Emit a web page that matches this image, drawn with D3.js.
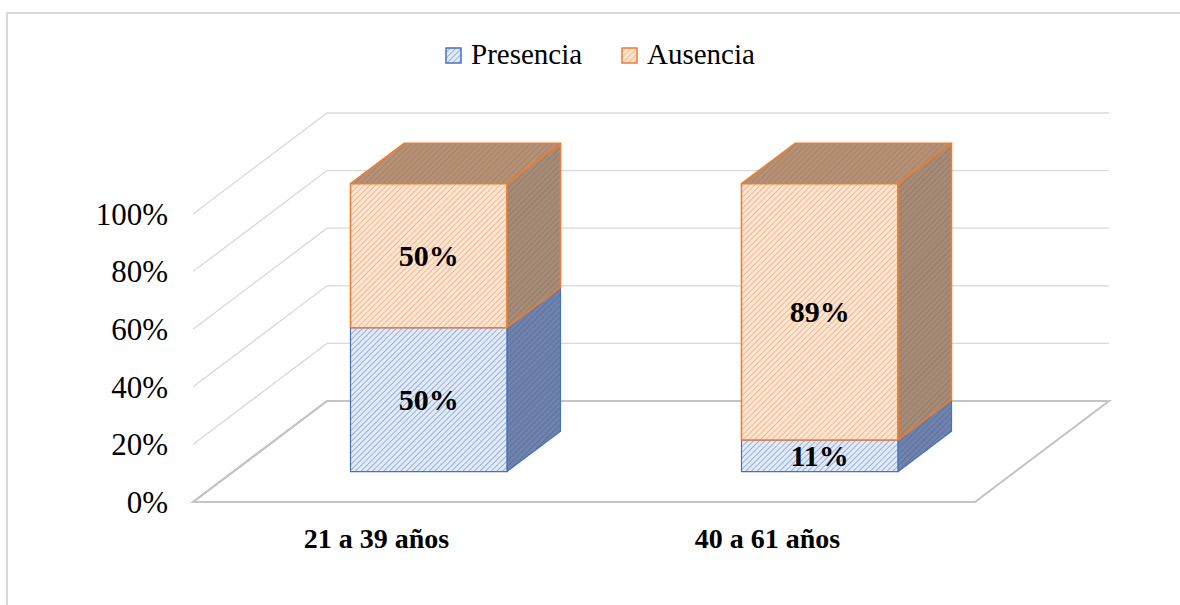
<!DOCTYPE html>
<html>
<head>
<meta charset="utf-8">
<script src="https://cdn.jsdelivr.net/npm/d3@7/dist/d3.min.js"></script>
<style>
  html, body { margin: 0; padding: 0; background: #ffffff; }
  svg { display: block; }
</style>
</head>
<body>
<svg id="chart" width="1180" height="605"></svg>
<script>
// Age groups and the share of each outcome within the group
const categories = ["21 a 39 años", "40 a 61 años"];
const presencia = [0.50, 0.11];
const ausencia = [0.50, 0.89];
const seriesNames = ["Presencia", "Ausencia"];
const yTicks = [0, 0.2, 0.4, 0.6, 0.8, 1.0];
const yTickLabels = ["0%", "20%", "40%", "60%", "80%", "100%"];

const FONT = "'Liberation Serif', 'Times New Roman', Times, serif";
const svg = d3.select("#chart");

// Outer frame of the chart area
svg.append("rect")
  .attr("x", 7).attr("y", 13).attr("width", 1200).attr("height", 700)
  .attr("fill", "none").attr("stroke", "#d9d9d9").attr("stroke-width", 2);

// Front plane scales plus an oblique depth vector for the 3D look
const x = d3.scaleBand().domain(categories).range([193, 975])
  .paddingInner(0.6).paddingOuter(0.3);
const y = d3.scaleLinear().domain([0, 1]).range([502, 214]);
const DEPTH_X = 134, DEPTH_Y = 101;
const proj = (px, v, d) => [px + d * DEPTH_X, y(v) - d * DEPTH_Y];
const floorLeft = x.range()[0], floorRight = x.range()[1];

// Hatch patterns for the faces of each series
const defs = svg.append("defs");
function hatch(id, bg, line, w) {
  const p = defs.append("pattern").attr("id", id)
    .attr("patternUnits", "userSpaceOnUse").attr("width", 4).attr("height", 4)
    .attr("patternTransform", "rotate(45)");
  p.append("rect").attr("width", 4).attr("height", 4).attr("fill", bg);
  p.append("line").attr("x1", 0).attr("y1", 0).attr("x2", 0).attr("y2", 4)
    .attr("stroke", line).attr("stroke-width", w);
}
hatch("pFront", "#e3ebf8", "#7596d4", 1.4);
hatch("pSide", "#7083ac", "#566b98", 1.4);
hatch("pTop", "#8197c2", "#6479a8", 1.4);
hatch("aFront", "#fde6d4", "#f2a36d", 1.4);
hatch("aSide", "#a68b77", "#8f7561", 1.4);
hatch("aTop", "#b69176", "#a07c62", 1.4);

const styles = [
  { front: "url(#pFront)", side: "url(#pSide)", top: "url(#pTop)", stroke: "#4472c4", sw: 1.2 },
  { front: "url(#aFront)", side: "url(#aSide)", top: "url(#aTop)", stroke: "#ed7d31", sw: 1.6 }
];

// Gridlines: a diagonal on the left wall and a run along the back wall
const grid = svg.append("g");
yTicks.forEach(t => {
  const a = proj(floorLeft, t, 0), b = proj(floorLeft, t, 1), c = proj(floorRight, t, 1);
  grid.append("polyline")
    .attr("points", [a, b, c].map(p => p.join(",")).join(" "))
    .attr("fill", "none")
    .attr("stroke", t === 0 ? "#c4c4c4" : "#d9d9d9")
    .attr("stroke-width", t === 0 ? 2 : 1.3);
});

// Floor outline
const floorPts = [proj(floorLeft, 0, 0), proj(floorRight, 0, 0), proj(floorRight, 0, 1), proj(floorLeft, 0, 1)];
svg.append("polygon")
  .attr("points", floorPts.map(p => p.join(",")).join(" "))
  .attr("fill", "none").attr("stroke", "#c4c4c4").attr("stroke-width", 2);

// Y axis labels
svg.append("g").selectAll("text").data(yTicks).join("text")
  .attr("x", 168).attr("y", d => y(d))
  .attr("dy", "0.35em")
  .attr("text-anchor", "end")
  .attr("font-family", FONT)
  .attr("font-size", 31)
  .text((d, i) => yTickLabels[i]);

// Stacked 3D bars
const stacked = categories.map((c, i) => {
  const vals = [presencia[i], ausencia[i]];
  let acc = 0;
  return vals.map((v, s) => {
    const seg = { cat: c, s, v, y0: acc, y1: acc + v };
    acc += v;
    return seg;
  });
});

const D0 = 0.3, D1 = 0.7;
const bars = svg.append("g");
const pts = arr => arr.map(p => p.join(",")).join(" ");
stacked.forEach(segs => {
  segs.forEach(seg => {
    const st = styles[seg.s];
    const xl = x(seg.cat), xr = x(seg.cat) + x.bandwidth();
    const g = bars.append("g").attr("stroke", st.stroke).attr("stroke-width", st.sw)
      .attr("stroke-linejoin", "round");
    // right side face
    g.append("polygon").attr("fill", st.side).attr("points", pts([
      proj(xr, seg.y0, D0), proj(xr, seg.y0, D1), proj(xr, seg.y1, D1), proj(xr, seg.y1, D0)
    ]));
    // top face
    g.append("polygon").attr("fill", st.top).attr("points", pts([
      proj(xl, seg.y1, D0), proj(xr, seg.y1, D0), proj(xr, seg.y1, D1), proj(xl, seg.y1, D1)
    ]));
    // front face
    g.append("polygon").attr("fill", st.front).attr("points", pts([
      proj(xl, seg.y0, D0), proj(xr, seg.y0, D0), proj(xr, seg.y1, D0), proj(xl, seg.y1, D0)
    ]));
  });
});

// Value labels centred on each front face
stacked.forEach(segs => {
  segs.forEach(seg => {
    const cx = x(seg.cat) + x.bandwidth() / 2;
    const p = proj(cx, (seg.y0 + seg.y1) / 2, D0);
    svg.append("text")
      .attr("x", p[0]).attr("y", p[1]).attr("dy", "0.35em")
      .attr("text-anchor", "middle")
      .attr("font-family", FONT)
      .attr("font-size", 30).attr("font-weight", "bold")
      .text(Math.round(seg.v * 100) + "%");
  });
});

// Category labels under the floor
svg.append("g").selectAll("text").data(categories).join("text")
  .attr("x", d => x(d) + x.bandwidth() / 2 - 12)
  .attr("y", 548)
  .attr("text-anchor", "middle")
  .attr("font-family", FONT)
  .attr("font-size", 28).attr("font-weight", "bold")
  .text(d => d);

// Legend
const legend = svg.append("g");
const legendItems = [
  { name: seriesNames[0], st: styles[0], x: 446 },
  { name: seriesNames[1], st: styles[1], x: 622 }
];
legendItems.forEach(it => {
  legend.append("rect")
    .attr("x", it.x).attr("y", 48).attr("width", 15).attr("height", 15)
    .attr("fill", it.st.front).attr("stroke", it.st.stroke).attr("stroke-width", 1.5);
  legend.append("text")
    .attr("x", it.x + 25).attr("y", 64)
    .attr("font-family", FONT)
    .attr("font-size", 29)
    .text(it.name);
});
</script>
</body>
</html>
